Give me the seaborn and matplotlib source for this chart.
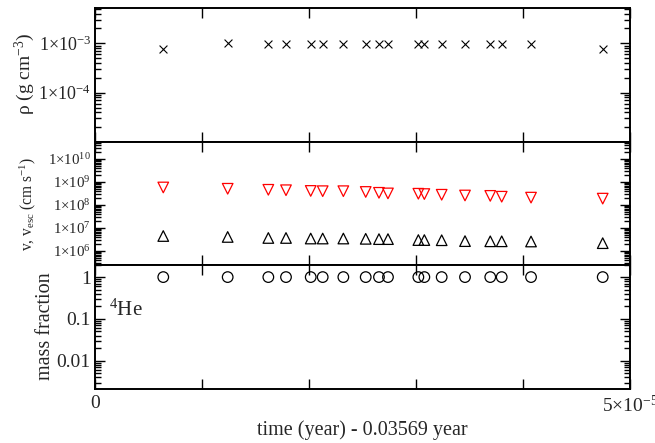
import numpy as np
import pandas as pd
import matplotlib
matplotlib.use("Agg")
import matplotlib.pyplot as plt
from matplotlib.ticker import FixedLocator, FuncFormatter, LogLocator, NullFormatter, NullLocator
import seaborn as sns

# Time since 0.03569 year (years)
time = [0.638e-5, 1.240e-5, 1.620e-5, 1.785e-5, 2.016e-5, 2.128e-5, 2.321e-5, 2.530e-5,
        2.654e-5, 2.738e-5, 3.022e-5, 3.078e-5, 3.240e-5, 3.458e-5, 3.694e-5, 3.801e-5,
        4.075e-5, 4.745e-5]
# Density (g cm^-3)
density = [7.7e-4, 1.0e-3, 9.6e-4, 9.8e-4, 9.7e-4, 9.8e-4, 9.8e-4, 9.6e-4, 9.7e-4,
           9.9e-4, 9.5e-4, 9.6e-4, 9.6e-4, 9.6e-4, 9.6e-4, 9.9e-4, 9.6e-4, 7.6e-4]
# Escape velocity (cm s^-1)
v_esc = [5.8e8, 5.1e8, 4.6e8, 4.4e8, 4.1e8, 4.0e8, 4.0e8, 3.7e8, 3.4e8, 3.2e8, 3.1e8,
         3.0e8, 2.8e8, 2.6e8, 2.5e8, 2.3e8, 2.1e8, 1.9e8]
# Velocity (cm s^-1)
velocity = [4.5e6, 4.1e6, 3.7e6, 3.7e6, 3.5e6, 3.5e6, 3.5e6, 3.4e6, 3.3e6, 3.3e6, 3.0e6,
            3.0e6, 2.95e6, 2.7e6, 2.65e6, 2.65e6, 2.6e6, 2.2e6]
# 4He mass fraction
he4 = [1.0] * 18

df = pd.DataFrame({"t": time, "rho": density, "vesc": v_esc, "v": velocity, "he4": he4})

sns.set_style("ticks")
plt.rcParams["font.family"] = ["Liberation Serif", "DejaVu Serif"]
plt.rcParams["mathtext.fontset"] = "custom"
plt.rcParams["mathtext.rm"] = "Liberation Serif"
plt.rcParams["mathtext.it"] = "Liberation Serif:italic"
plt.rcParams["mathtext.bf"] = "Liberation Serif:bold"

W, H = 655, 443
fig = plt.figure(figsize=(W / 100, H / 100), dpi=100)

def box(top, bottom, left=95, right=630):
    return [left / W, 1 - bottom / H, (right - left) / W, (bottom - top) / H]

ax1 = fig.add_axes(box(8, 142))
ax2 = fig.add_axes(box(142, 264.5))
ax3 = fig.add_axes(box(264.5, 389))

sns.scatterplot(data=df, x="t", y="rho", ax=ax1, marker="x", color="black", s=32,
                linewidth=0.8, legend=False)
sns.scatterplot(data=df, x="t", y="vesc", ax=ax2, marker="v", facecolor="none",
                edgecolor="red", s=58, linewidth=0.9, legend=False)
sns.scatterplot(data=df, x="t", y="v", ax=ax2, marker="^", facecolor="none",
                edgecolor="black", s=58, linewidth=0.9, legend=False)
sns.scatterplot(data=df, x="t", y="he4", ax=ax3, marker="o", facecolor="none",
                edgecolor="black", s=58, linewidth=0.9, legend=False)

def sci(v, pos=None):
    e = int(round(np.log10(v)))
    return r"$\mathregular{1{\times}10^{%d}}$" % e

ylims = [(1e-5, 5.2e-3), (2.6e5, 5.5e10), (2.1e-3, 2.0)]
for ax, yl in zip([ax1, ax2, ax3], ylims):
    ax.set_yscale("log")
    ax.set_ylim(*yl)
    ax.set_xlim(0, 5e-5)
    ax.xaxis.set_major_locator(FixedLocator([0, 1e-5, 2e-5, 3e-5, 4e-5, 5e-5]))
    ax.xaxis.set_minor_locator(NullLocator())
    ax.yaxis.set_minor_locator(LogLocator(base=10, subs=np.arange(2, 10), numticks=20))
    ax.yaxis.set_minor_formatter(NullFormatter())
    ax.tick_params(which="both", direction="in", top=True, right=True, width=1.0,
                   color="black")
    ax.tick_params(which="major", length=7)
    ax.tick_params(which="minor", length=4)
    for sp in ax.spines.values():
        sp.set_linewidth(1.4)
        sp.set_color("black")
    ax.set_xlabel("")
    ax.set_ylabel("")

ax1.yaxis.set_major_locator(FixedLocator([1e-4, 1e-3]))
ax1.yaxis.set_major_formatter(FuncFormatter(sci))
ax1.tick_params(axis="y", labelsize=13, pad=3)

ax2.yaxis.set_major_locator(FixedLocator([1e6, 1e7, 1e8, 1e9, 1e10]))
ax2.yaxis.set_major_formatter(FuncFormatter(sci))
ax2.tick_params(axis="y", labelsize=10.7, pad=3)

ax3.yaxis.set_major_locator(FixedLocator([0.01, 0.1, 1]))
ax3.yaxis.set_major_formatter(FuncFormatter(
    lambda v, p: {0.01: "0.01", 0.1: "0.1", 1: "1"}.get(round(v, 2), "")))
ax3.tick_params(axis="y", labelsize=14, pad=3)

for ax in (ax1, ax2):
    ax.tick_params(axis="x", labelbottom=False)
ax3.xaxis.set_major_formatter(FuncFormatter(
    lambda v, p: "0" if v == 0 else (r"$\mathregular{5{\times}10^{-5}}$" if abs(v - 5e-5) < 1e-9 else "")))
ax3.tick_params(axis="x", labelsize=14, pad=4)

ax3.text(0.027, 0.63, r"$\mathregular{^{4}}$He", transform=ax3.transAxes, fontsize=15,
         ha="left", va="center")

fig.text(25 / W, 1 - 74 / H, r"ρ (g cm$\mathregular{^{-3}}$)", rotation=90, fontsize=14,
         ha="center", va="center")
fig.text(28 / W, 1 - 204 / H, r"v, v$\mathregular{_{esc}}$ (cm s$\mathregular{^{-1}}$)",
         rotation=90, fontsize=11.2, ha="center", va="center")
fig.text(46 / W, 1 - 326 / H, "mass fraction", rotation=90, fontsize=14.5,
         ha="center", va="center")
fig.text(362 / W, 1 - 430 / H, "time (year) - 0.03569 year", fontsize=14.5,
         ha="center", va="center")

fig.savefig("out.png", dpi=100, facecolor="white")
